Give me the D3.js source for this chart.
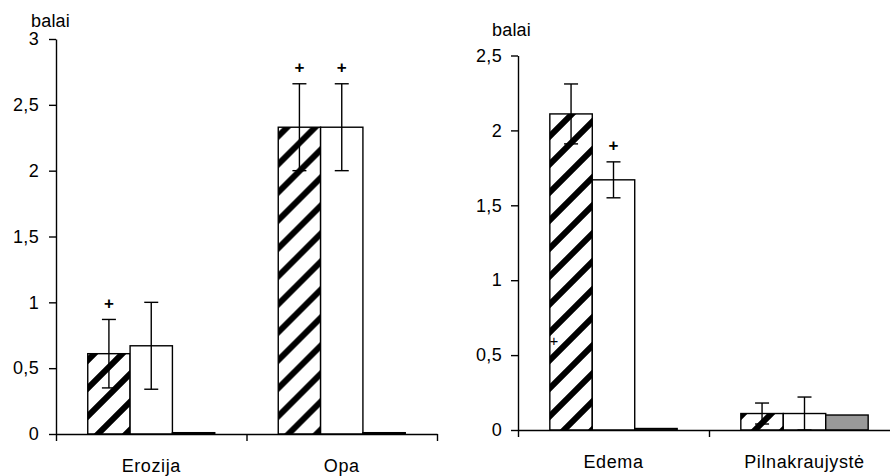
<!DOCTYPE html>
<html>
<head>
<meta charset="utf-8">
<script src="https://cdn.jsdelivr.net/npm/d3@7"></script>
<style>
  html, body { margin: 0; padding: 0; background: #fff; }
  svg { display: block; font-family: Arial, "Liberation Sans", sans-serif; }
</style>
</head>
<body>
<svg id="chart" width="890" height="476"></svg>
<script>
// Series order: hatched, white, grey
const seriesKeys = ["s1", "s2", "s3"];

// Left panel
const leftCategories = ["Erozija", "Opa"];
const leftMeans = [[0.61, 0.67, 0.01], [2.33, 2.33, 0.01]];
const leftErrors = [[0.26, 0.33, null], [0.33, 0.33, null]];
const leftPlus = [[true, false, false], [true, true, false]];
const leftTicks = [0, 0.5, 1, 1.5, 2, 2.5, 3];
const leftTickLabels = ["0", "0,5", "1", "1,5", "2", "2,5", "3"];

// Right panel
const rightCategories = ["Edema", "Pilnakraujystė"];
const rightMeans = [[2.11, 1.67, 0.01], [0.11, 0.11, 0.1]];
const rightErrors = [[0.2, 0.12, null], [0.07, 0.11, null]];
const rightPlus = [[false, true, false], [false, false, false]];
const rightTicks = [0, 0.5, 1, 1.5, 2, 2.5];
const rightTickLabels = ["0", "0,5", "1", "1,5", "2", "2,5"];
// extra "+" marker sitting on the left edge of the Edema hatched bar
const rightEdgeMarks = [{ cat: 0, series: 0, value: 0.6 }];

const yLabel = "balai";

const FONT = "Arial, 'Liberation Sans', sans-serif";
const FS = 18;

const svg = d3.select("#chart");
const defs = svg.append("defs");

// diagonal black stripes on white
const pat = defs.append("pattern")
  .attr("id", "hatch")
  .attr("patternUnits", "userSpaceOnUse")
  .attr("width", 28).attr("height", 28);
pat.append("rect").attr("width", 28).attr("height", 28).attr("fill", "#fff");
pat.append("path")
  .attr("d", "M-7,7 L7,-7 M0,28 L28,0 M21,35 L35,21")
  .attr("stroke", "#000").attr("stroke-width", 6);

const fills = ["url(#hatch)", "#ffffff", "#999999"];

function panel(cfg) {
  const g = svg.append("g");
  const y = d3.scaleLinear().domain(cfg.yDomain).range(cfg.yRange);
  const x0 = d3.scaleBand().domain(cfg.categories).range(cfg.xRange).padding(0);
  const bw = x0.bandwidth();
  const x1 = d3.scaleBand().domain(seriesKeys).range([bw / 6, bw * 5 / 6]).padding(0);
  const y0 = y(0);

  // y axis
  const yAxis = d3.axisLeft(y)
    .tickValues(cfg.ticks)
    .tickFormat((d, i) => cfg.tickLabels[i])
    .tickSize(7).tickSizeOuter(0).tickPadding(cfg.tickPad);
  const ga = g.append("g").attr("transform", `translate(${cfg.xRange[0]},0)`).call(yAxis);
  ga.attr("font-size", FS).attr("font-family", FONT);
  ga.selectAll("path, line").attr("stroke", "#000").attr("stroke-width", 1.4);
  ga.selectAll("text").attr("fill", "#000").attr("letter-spacing", 0.3);

  // bars
  cfg.categories.forEach((cat, ci) => {
    const gc = g.append("g").attr("transform", `translate(${x0(cat)},0)`);
    seriesKeys.forEach((k, si) => {
      const v = cfg.means[ci][si];
      gc.append("rect")
        .attr("x", x1(k))
        .attr("y", y(v))
        .attr("width", x1.bandwidth())
        .attr("height", Math.max(0, y0 - y(v)))
        .attr("fill", fills[si])
        .attr("stroke", "#000")
        .attr("stroke-width", 1.4);
    });
    // error bars
    seriesKeys.forEach((k, si) => {
      const e = cfg.errors[ci][si];
      if (e == null) return;
      const v = cfg.means[ci][si];
      const cx = x1(k) + x1.bandwidth() / 2;
      const top = y(v + e), bot = y(Math.max(0, v - e));
      gc.append("line").attr("x1", cx).attr("x2", cx).attr("y1", top).attr("y2", bot)
        .attr("stroke", "#000").attr("stroke-width", 1.4);
      [top, bot].forEach(yy => {
        gc.append("line").attr("x1", cx - 7).attr("x2", cx + 7).attr("y1", yy).attr("y2", yy)
          .attr("stroke", "#000").attr("stroke-width", 1.4);
      });
      if (cfg.plus[ci][si]) {
        gc.append("text").attr("x", cx).attr("y", top - 16)
          .attr("text-anchor", "middle").attr("dominant-baseline", "central")
          .attr("font-family", FONT).attr("font-size", 17).attr("font-weight", "bold")
          .attr("fill", "#000").text("+");
      }
    });
  });

  // edge "+" marks
  (cfg.edgeMarks || []).forEach(m => {
    const cat = cfg.categories[m.cat];
    const xx = x0(cat) + x1(seriesKeys[m.series]) + 4;
    g.append("text").attr("x", xx).attr("y", y(m.value))
      .attr("text-anchor", "middle").attr("dominant-baseline", "central")
      .attr("font-family", FONT).attr("font-size", 15).attr("fill", "#000").text("+");
  });

  // x axis with ticks at category boundaries
  const xb = d3.scaleLinear().domain([0, cfg.categories.length]).range(cfg.xRange);
  const xAxis = d3.axisBottom(xb)
    .tickValues(d3.range(cfg.categories.length + 1))
    .tickFormat("").tickSize(7).tickSizeOuter(0);
  const gx = g.append("g").attr("transform", `translate(0,${y0})`).call(xAxis);
  gx.selectAll("path, line").attr("stroke", "#000").attr("stroke-width", 1.4);

  // category labels
  cfg.categories.forEach(cat => {
    g.append("text").attr("x", x0(cat) + bw / 2).attr("y", cfg.catY)
      .attr("text-anchor", "middle").attr("font-family", FONT).attr("font-size", FS)
      .attr("letter-spacing", 0.6).attr("fill", "#000").text(cat);
  });

  // unit label
  g.append("text").attr("x", cfg.unitX).attr("y", cfg.unitY)
    .attr("font-family", FONT).attr("font-size", FS).attr("letter-spacing", 0.2)
    .attr("fill", "#000").text(yLabel);
}

panel({
  categories: leftCategories, means: leftMeans, errors: leftErrors, plus: leftPlus,
  ticks: leftTicks, tickLabels: leftTickLabels,
  yDomain: [0, 3], yRange: [434, 39], xRange: [56, 437], tickPad: 10,
  catY: 472, unitX: 31, unitY: 27
});

panel({
  categories: rightCategories, means: rightMeans, errors: rightErrors, plus: rightPlus,
  ticks: rightTicks, tickLabels: rightTickLabels, edgeMarks: rightEdgeMarks,
  yDomain: [0, 2.5], yRange: [430, 55.5], xRange: [518, 900], tickPad: 9,
  catY: 468, unitX: 492, unitY: 36
});
</script>
</body>
</html>
